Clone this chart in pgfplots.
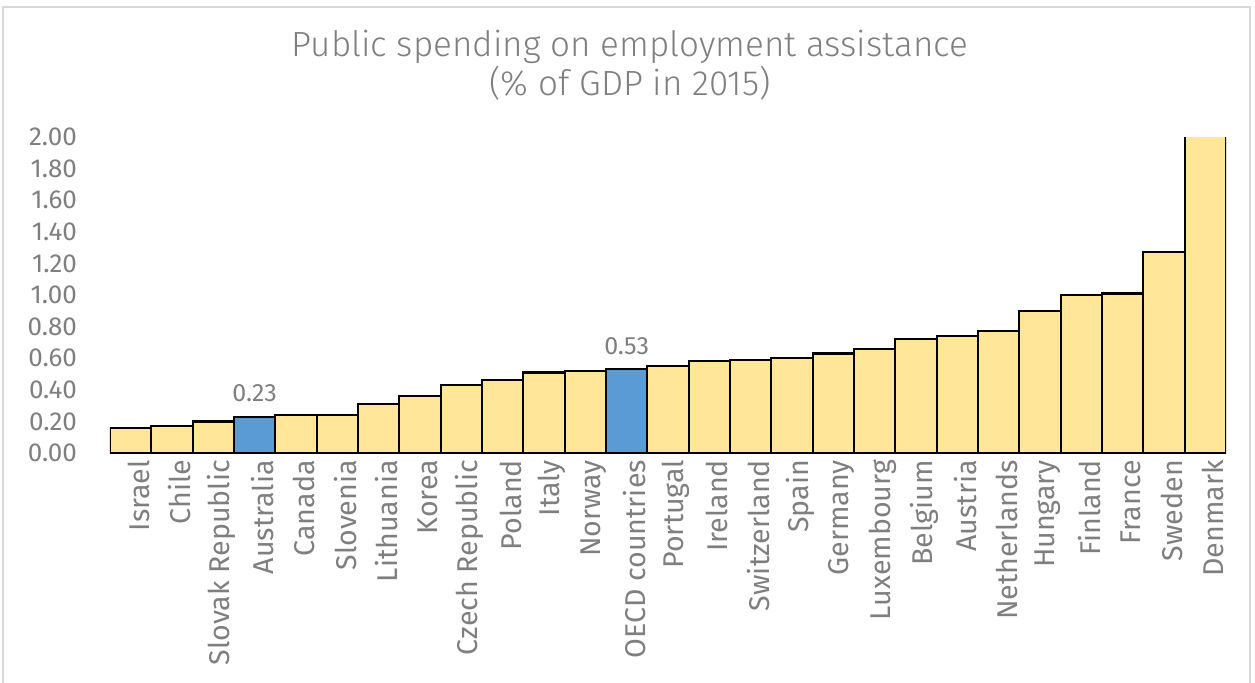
\documentclass[border=0pt]{standalone}
\usepackage{pgfplots}
\pgfplotsset{compat=1.18}
\usepackage{fontspec}
\setmainfont{Fira Sans}
\newfontfamily\titlefont{Fira Sans Light}
\definecolor{barY}{HTML}{FFE699}
\definecolor{barB}{HTML}{5B9BD5}
\definecolor{txt}{HTML}{7F7F7F}
\definecolor{axg}{HTML}{D9D9D9}
\begin{document}
\begin{tikzpicture}
\useasboundingbox (-55pt,-114.5pt) rectangle (572.5pt,226.5pt);
\draw[axg, line width=1pt] (-53.5pt,-120pt) rectangle (570pt,223pt);
\node[align=center, text=txt, font=\titlefont\fontsize{17.5}{16.5}\selectfont] at (260pt,194pt) {Public spending on employment assistance\\(\% of GDP in 2015)};
\begin{axis}[
  at={(0pt,0pt)}, anchor=south west,
  scale only axis, width=558pt, height=158pt,
  xmin=-0.5, xmax=26.5, ymin=0, ymax=2,
  clip=true,
  ytick={0,0.2,...,2.01},
  /pgf/number format/fixed, /pgf/number format/fixed zerofill, /pgf/number format/precision=2, /pgf/number format/assume math mode=true,
  y tick label style={font=\fontsize{13}{14}\selectfont, text=txt, xshift=-13pt},
  xtick={0,...,26},
  xticklabels={Israel,Chile,Slovak Republic,Australia,Canada,Slovenia,Lithuania,Korea,Czech Republic,Poland,Italy,Norway,OECD countries,Portugal,Ireland,Switzerland,Spain,Germany,Luxembourg,Belgium,Austria,Netherlands,Hungary,Finland,France,Sweden,Denmark},
  x tick label style={rotate=90, anchor=east, font=\fontsize{14.3}{16}\selectfont, text=txt, yshift=-4pt},
  major tick length=0pt,
  axis x line*=bottom, axis y line*=left,
  x axis line style={draw=axg, line width=1pt, -},
  y axis line style={draw=none},
  ybar, bar width=1,
]
\addplot[fill=barY, draw=black, line width=1.1pt, bar shift=0pt] coordinates {
(0,0.16) (1,0.17) (2,0.20) (4,0.24) (5,0.24) (6,0.31) (7,0.36) (8,0.43) (9,0.46) (10,0.51) (11,0.52)
(13,0.55) (14,0.58) (15,0.59) (16,0.60) (17,0.63) (18,0.66) (19,0.72) (20,0.74) (21,0.77) (22,0.90) (23,1.00) (24,1.01) (25,1.27) (26,2.05)};
\addplot[fill=barB, draw=black, line width=1.1pt, bar shift=0pt,
  nodes near coords, nodes near coords style={font=\fontsize{12.5}{14}\selectfont, text=txt, yshift=3.5pt}] coordinates {
(3,0.23) (12,0.53)};
\end{axis}
\end{tikzpicture}
\end{document}
